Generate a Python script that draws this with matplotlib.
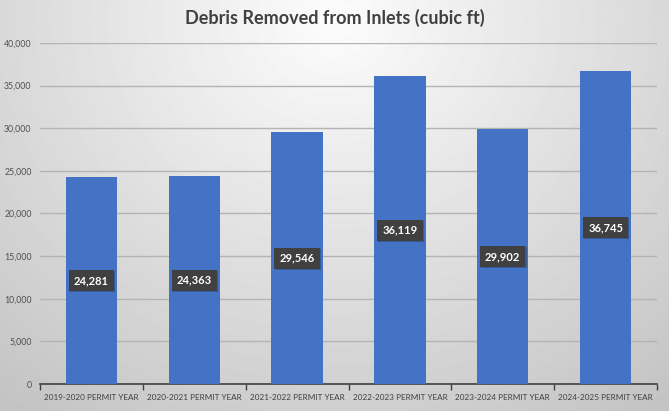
import numpy as np
import matplotlib.pyplot as plt
import matplotlib.patheffects as pe

categories = ["2019-2020 PERMIT YEAR", "2020-2021 PERMIT YEAR", "2021-2022 PERMIT YEAR",
              "2022-2023 PERMIT YEAR", "2023-2024 PERMIT YEAR", "2024-2025 PERMIT YEAR"]
values = [24281, 24363, 29546, 36119, 29902, 36745]
yticks = [0, 5000, 10000, 15000, 20000, 25000, 30000, 35000, 40000]

plt.rcParams['font.family'] = ['Lato', 'DejaVu Sans']

fig = plt.figure(figsize=(6.69, 4.11), dpi=100)

# radial gradient background
bg = fig.add_axes([0, 0, 1, 1], zorder=-10)
yy, xx = np.mgrid[0:411, 0:669]
r = np.sqrt(((xx - 334) / 520.0) ** 2 + ((yy - 20) / 480.0) ** 2)
shade = np.clip(0.99 - 0.22 * r, 0.76, 1.0)
bg.imshow(shade, cmap='gray', vmin=0, vmax=1, aspect='auto', extent=[0, 1, 0, 1])
bg.axis('off')

ax = fig.add_axes([40 / 669, 1 - 384 / 411, 617 / 669, 341 / 411])
ax.patch.set_alpha(0)

x = np.arange(len(categories))
ax.bar(x, values, width=0.5, color='#4472c4', zorder=3)

for xi, v in zip(x, values):
    t = ax.text(xi, v / 2, f"{v:,}", ha='center', va='center', color='white',
                fontsize=8, fontweight='bold', zorder=5,
                bbox=dict(boxstyle='square,pad=0.45', fc='#404040', ec='none'))
    t.get_bbox_patch().set_path_effects([pe.SimplePatchShadow(offset=(0.8, -0.8), alpha=0.25),
                                         pe.Normal()])

ax.set_xlim(-0.5, len(categories) - 0.5)
ax.set_ylim(0, 40000)
ax.set_yticks(yticks)
ax.set_yticklabels([f"{t:,}" for t in yticks])
ax.yaxis.grid(True, color='#b4b4b4', linewidth=1.0, zorder=0)
ax.set_axisbelow(True)

ax.set_xticks(x)
ax.set_xticklabels(categories)
ax.set_xticks(np.arange(-0.5, len(categories)), minor=True)
ax.tick_params(axis='x', which='major', length=0, pad=7, labelsize=5.9, labelcolor='#404040')
ax.tick_params(axis='x', which='minor', length=4, width=1, color='#404040')
ax.tick_params(axis='y', length=0, pad=6, labelsize=6.3, labelcolor='#505050')

for s in ['top', 'right', 'left']:
    ax.spines[s].set_visible(False)
ax.spines['bottom'].set_color('#404040')
ax.spines['bottom'].set_linewidth(1.2)

fig.text(0.5, 1 - 18 / 411, "Debris Removed from Inlets (cubic ft)", ha='center', va='center',
         fontsize=13, fontweight='bold', color='#404040')

fig.savefig("out.png", dpi=100)
